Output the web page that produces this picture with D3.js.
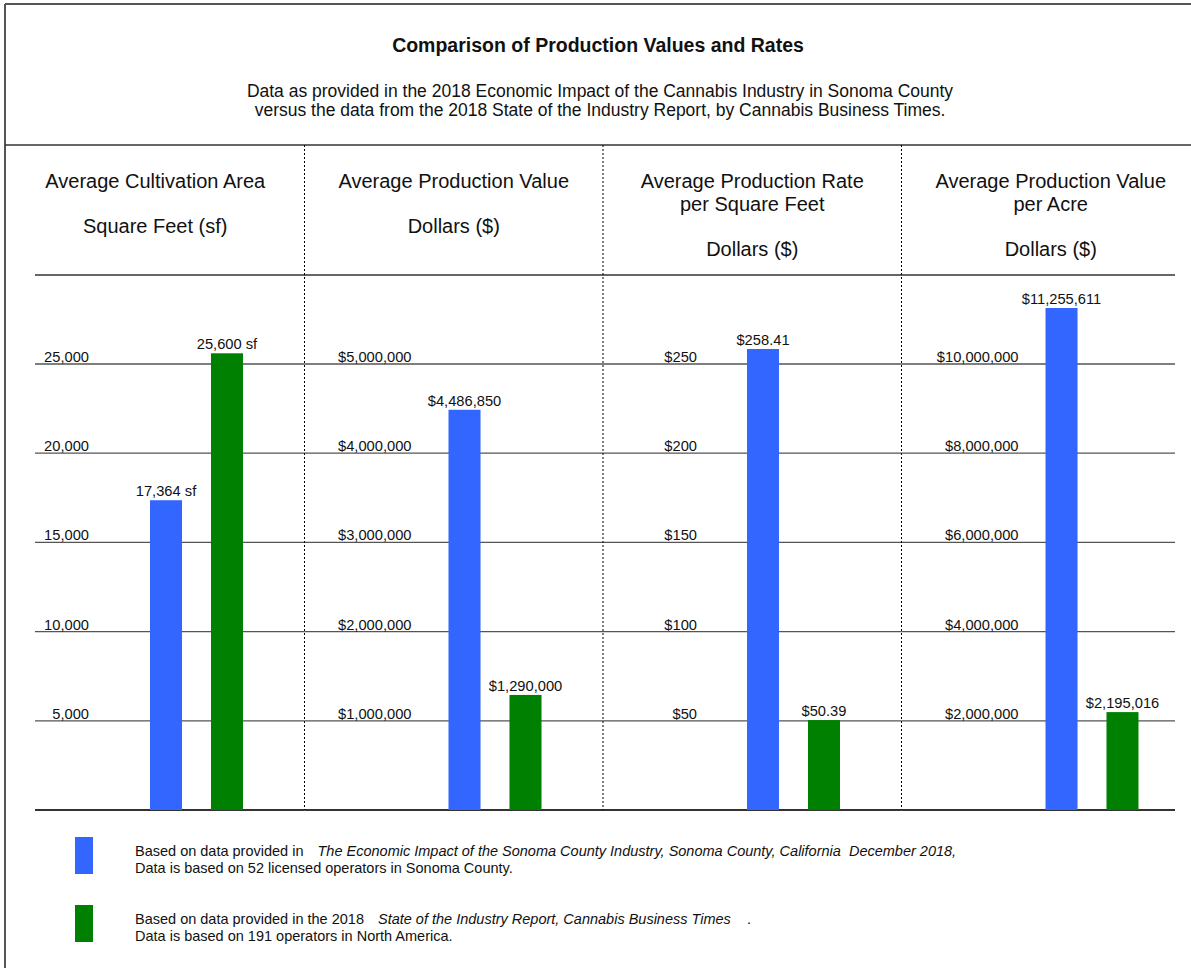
<!DOCTYPE html>
<html>
<head>
<meta charset="utf-8">
<script src="https://cdn.jsdelivr.net/npm/d3@7"></script>
<style>
  body { margin: 0; background: #fff; }
  text { font-family: Arial, "Liberation Sans", sans-serif; fill: #111; }
</style>
</head>
<body>
<div id="root"></div>
<script>
// chart data
const panelHeaders = [
  ["Average Cultivation Area", "", "Square Feet (sf)"],
  ["Average Production Value", "", "Dollars ($)"],
  ["Average Production Rate", "per Square Feet", "", "Dollars ($)"],
  ["Average Production Value", "per Acre", "", "Dollars ($)"]
];
const seriesNames = ["Sonoma County", "Cannabis Business Times"];
const sonomaValues = [17364, 4486850, 258.41, 11255611];
const cbtValues = [25600, 1290000, 50.39, 2195016];
const sonomaLabels = ["17,364 sf", "$4,486,850", "$258.41", "$11,255,611"];
const cbtLabels = ["25,600 sf", "$1,290,000", "$50.39", "$2,195,016"];
const tickValues = [
  [5000, 10000, 15000, 20000, 25000],
  [1000000, 2000000, 3000000, 4000000, 5000000],
  [50, 100, 150, 200, 250],
  [2000000, 4000000, 6000000, 8000000, 10000000]
];
const tickLabels = [
  ["5,000", "10,000", "15,000", "20,000", "25,000"],
  ["$1,000,000", "$2,000,000", "$3,000,000", "$4,000,000", "$5,000,000"],
  ["$50", "$100", "$150", "$200", "$250"],
  ["$2,000,000", "$4,000,000", "$6,000,000", "$8,000,000", "$10,000,000"]
];
const colors = ["#3366ff", "#008000"];

const width = 1191;
const height = 968;
const baseY = 810;
const topY = 364;
const gridLeft = 35;
const gridRight = 1175;
// where the tick labels end, measured from each panel's left edge
const tickLabelRight = [83, 107, 94, 117];

const svg = d3
  .select("#root")
  .append("svg")
  .attr("width", width)
  .attr("height", height);

// frame
svg.append("line").attr("x1", 5).attr("x2", 5).attr("y1", 4).attr("y2", height)
  .attr("stroke", "#555").attr("stroke-width", 2);
svg.append("line").attr("x1", 5).attr("x2", width).attr("y1", 4).attr("y2", 4)
  .attr("stroke", "#555").attr("stroke-width", 2);
svg.append("line").attr("x1", 5).attr("x2", width).attr("y1", 145).attr("y2", 145)
  .attr("stroke", "#333").attr("stroke-width", 1.5);

// titles
svg.append("text")
  .attr("x", 598).attr("y", 52)
  .attr("text-anchor", "middle")
  .style("font-size", "19.5px").style("font-weight", "bold")
  .text("Comparison of Production Values and Rates");
svg.append("text")
  .attr("x", 600).attr("y", 97)
  .attr("text-anchor", "middle")
  .style("font-size", "17.5px")
  .text("Data as provided in the 2018 Economic Impact of the Cannabis Industry in Sonoma County");
svg.append("text")
  .attr("x", 600).attr("y", 116)
  .attr("text-anchor", "middle")
  .style("font-size", "17.5px")
  .text("versus the data from the 2018 State of the Industry Report, by Cannabis Business Times.");

const panelScale = d3
  .scaleBand()
  .domain(d3.range(panelHeaders.length))
  .range([6, 1200]);

const barScale = d3
  .scaleBand()
  .domain(seriesNames)
  .range([144, 237])
  .paddingInner(0.475);

// line under the headers
svg.append("line").attr("x1", gridLeft).attr("x2", gridRight).attr("y1", 275).attr("y2", 275)
  .attr("stroke", "#333").attr("stroke-width", 1.5);

panelHeaders.forEach((header, i) => {
  const x0 = panelScale(i);
  const bw = panelScale.bandwidth();
  const g = svg.append("g").attr("class", "panel");

  const yScale = d3
    .scaleLinear()
    .domain([0, d3.max(tickValues[i])])
    .range([baseY, topY]);

  // header text
  g.selectAll("text.header")
    .data(header)
    .enter()
    .append("text")
    .attr("class", "header")
    .attr("x", x0 + bw / 2)
    .attr("y", (d, j) => 188 + j * 22.7)
    .attr("text-anchor", "middle")
    .style("font-size", "20px")
    .text((d) => d);

  const lx1 = Math.max(gridLeft, x0);
  const lx2 = Math.min(gridRight, x0 + bw);

  // grid lines
  g.selectAll("line.grid")
    .data(tickValues[i])
    .enter()
    .append("line")
    .attr("class", "grid")
    .attr("x1", lx1)
    .attr("x2", lx2)
    .attr("y1", (d) => yScale(d))
    .attr("y2", (d) => yScale(d))
    .attr("stroke", "#555")
    .attr("stroke-width", 1.3);

  g.append("line")
    .attr("x1", lx1).attr("x2", lx2)
    .attr("y1", yScale(0)).attr("y2", yScale(0))
    .attr("stroke", "#333").attr("stroke-width", 2);

  g.selectAll("text.tick")
    .data(tickValues[i])
    .enter()
    .append("text")
    .attr("class", "tick")
    .attr("x", x0 + tickLabelRight[i])
    .attr("y", (d) => yScale(d) - 2)
    .attr("text-anchor", "end")
    .style("font-size", "14.7px")
    .text((d, j) => tickLabels[i][j]);

  // divider
  if (i > 0) {
    g.append("line")
      .attr("x1", x0).attr("x2", x0)
      .attr("y1", 145).attr("y2", baseY)
      .attr("stroke", "#000")
      .attr("stroke-dasharray", "2,2");
  }

  const bars = [
    { name: seriesNames[0], value: sonomaValues[i], label: sonomaLabels[i], color: colors[0] },
    { name: seriesNames[1], value: cbtValues[i], label: cbtLabels[i], color: colors[1] }
  ];

  g.selectAll("rect")
    .data(bars)
    .enter()
    .append("rect")
    .attr("x", (d) => x0 + barScale(d.name))
    .attr("y", (d) => yScale(d.value))
    .attr("width", barScale.bandwidth())
    .attr("height", (d) => yScale(0) - yScale(d.value))
    .attr("fill", (d) => d.color);

  g.selectAll("text.value")
    .data(bars)
    .enter()
    .append("text")
    .attr("class", "value")
    .attr("x", (d) => x0 + barScale(d.name) + barScale.bandwidth() / 2)
    .attr("y", (d) => yScale(d.value) - 4)
    .attr("text-anchor", "middle")
    .style("font-size", "14.7px")
    .text((d) => d.label);
});

// legend
const legend = [
  {
    color: colors[0],
    y: 837,
    line1: ["Based on data provided in ", "The Economic Impact of the Sonoma County Industry, Sonoma County, California  December 2018,", ""],
    line2: "Data is based on 52 licensed operators in Sonoma County."
  },
  {
    color: colors[1],
    y: 905,
    line1: ["Based on data provided in the 2018 ", "State of the Industry Report, Cannabis Business Times", "  ."],
    line2: "Data is based on 191 operators in North America."
  }
];

const lg = svg.selectAll("g.legend")
  .data(legend)
  .enter()
  .append("g")
  .attr("class", "legend");

lg.append("rect")
  .attr("x", 75)
  .attr("y", (d) => d.y)
  .attr("width", 18)
  .attr("height", 37)
  .attr("fill", (d) => d.color);

const t1 = lg.append("text")
  .attr("x", 135)
  .attr("y", (d) => d.y + 19)
  .style("font-size", "14.5px")
  .style("white-space", "pre");
t1.append("tspan").text((d) => d.line1[0]);
t1.append("tspan").attr("dx", 10).style("font-style", "italic").text((d) => d.line1[1]);
t1.append("tspan").attr("dx", 8).text((d) => d.line1[2]);

lg.append("text")
  .attr("x", 135)
  .attr("y", (d) => d.y + 36)
  .style("font-size", "14.5px")
  .text((d) => d.line2);
</script>
</body>
</html>
